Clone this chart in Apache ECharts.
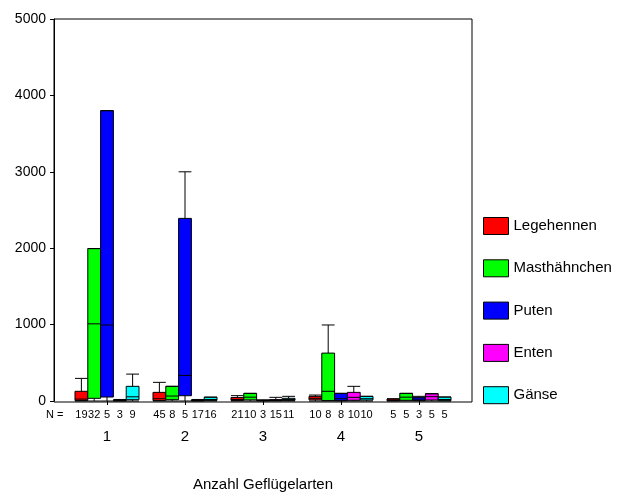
<!DOCTYPE html>
<html><head><meta charset="utf-8">
<script src="https://cdn.jsdelivr.net/npm/echarts@6/dist/echarts.min.js"></script>
<style>html,body{margin:0;padding:0;background:#fff}#c{width:619px;height:497px}</style>
</head><body><div id="c"></div>
<script>
// Categories (Anzahl Geflügelarten)
const categories = ['1', '2', '3', '4', '5'];
const seriesNames = ['Legehennen', 'Masthähnchen', 'Puten', 'Enten', 'Gänse'];
const seriesColors = ['#ff0000', '#00ff00', '#0000ff', '#ff00ff', '#00ffff'];

// Boxplot values per group: [min, Q1, median, Q3, max]
const legehennen = [[0, 5, 25, 127, 296], [0, 5, 30, 113, 244], [0, 8, 20, 45, 70], [0, 15, 35, 61, 78], [0, 3, 10, 25, 30]];
const masthaehnchen = [[0, 35, 1010, 1995, 1995], [0, 17, 65, 192, 192], [0, 15, 50, 100, 100], [0, 5, 127, 627, 995], [0, 9, 50, 100, 100]];
const puten = [[0, 52, 995, 3800, 3800], [0, 69, 335, 2390, 3000], [0, 3, 5, 10, 15], [0, 4, 30, 100, 100], [0, 5, 25, 48, 61]];
const enten = [[0, 2, 5, 12, 20], [0, 2, 5, 12, 20], [0, 5, 10, 18, 48], [0, 10, 48, 113, 192], [0, 13, 57, 95, 95]];
const gaense = [[0, 17, 55, 192, 352], [0, 8, 20, 50, 50], [0, 8, 20, 35, 61], [0, 13, 30, 61, 61], [0, 4, 20, 52, 52]];

// N per box
const nLegehennen = [19, 45, 21, 10, 5];
const nMasthaehnchen = [32, 8, 10, 8, 5];
const nPuten = [5, 5, 3, 8, 3];
const nEnten = [3, 17, 15, 10, 5];
const nGaense = [9, 16, 11, 10, 5];

// Y axis
const yMin = 0, yMax = 5000, yInterval = 1000;

const allData = [legehennen, masthaehnchen, puten, enten, gaense];
const allN = [nLegehennen, nMasthaehnchen, nPuten, nEnten, nGaense];

const FONT = 'Arial, "Liberation Sans", sans-serif';
const chart = echarts.init(document.getElementById('c'), null, {renderer: 'canvas'});

const bandW = 390 / categories.length;
const avail = bandW * 0.8 - 2;
const gap = avail / seriesNames.length * 0.3;
const bw = (avail - gap * (seriesNames.length - 1)) / seriesNames.length;
const slot = bw + gap;

chart.setOption({
  animation: false,
  textStyle: {fontFamily: FONT},
  grid: [
    {left: 54, top: 19, width: 418, height: 383, show: true, borderColor: '#000', borderWidth: 1, backgroundColor: 'transparent'},
    {left: 68, top: 19, width: 390, height: 383}
  ],
  legend: {
    orient: 'vertical', left: 483, top: 217, padding: 0,
    itemWidth: 25, itemHeight: 17, itemGap: 24.3,
    icon: 'rect',
    data: seriesNames.map((n, i) => ({name: n, itemStyle: {color: seriesColors[i], borderColor: '#000', borderWidth: 1}})),
    textStyle: {fontSize: 15, color: '#000', fontFamily: FONT}
  },
  graphic: [{
    type: 'text', left: 46, top: 409,
    style: {text: 'N =', fill: '#000', font: '11px ' + FONT}
  }],
  xAxis: [
    {gridIndex: 0, type: 'value', show: false, min: 0, max: 1},
    {
      gridIndex: 1, type: 'category', data: categories, boundaryGap: true,
      axisLine: {show: false},
      axisTick: {show: true, alignWithLabel: true, length: 4, lineStyle: {color: '#000'}},
      axisLabel: {
        margin: 7, interval: 0, color: '#000',
        formatter: function (v, idx) {
          const parts = allN.map(arr => '{n|' + arr[idx] + '}').join('');
          return parts + '\n{g|' + v + '}';
        },
        rich: {
          n: {width: slot, align: 'center', fontSize: 11, lineHeight: 14, color: '#000', fontFamily: FONT},
          g: {fontSize: 15, lineHeight: 30, color: '#000', fontFamily: FONT}
        }
      },
      name: 'Anzahl Geflügelarten', nameLocation: 'middle', nameGap: 76,
      nameTextStyle: {fontSize: 15, color: '#000', fontFamily: FONT}
    }
  ],
  yAxis: [
    {gridIndex: 0, type: 'value', show: false, min: 0, max: 1},
    {
      gridIndex: 1, type: 'value', min: yMin, max: yMax, interval: yInterval, offset: 14,
      axisLine: {show: true, lineStyle: {color: '#000'}},
      axisTick: {show: true, length: 4, lineStyle: {color: '#000'}},
      axisLabel: {fontSize: 14, color: '#000', margin: 8, fontFamily: FONT, formatter: v => String(v)},
      splitLine: {show: false}
    }
  ],
  series: seriesNames.map((name, i) => ({
    name: name, type: 'boxplot', xAxisIndex: 1, yAxisIndex: 1,
    data: allData[i],
    boxWidth: [bw + gap, 50],
    itemStyle: {color: seriesColors[i], borderColor: '#000', borderWidth: 1},
    emphasis: {disabled: true},
    silent: true
  }))
});
</script></body></html>
